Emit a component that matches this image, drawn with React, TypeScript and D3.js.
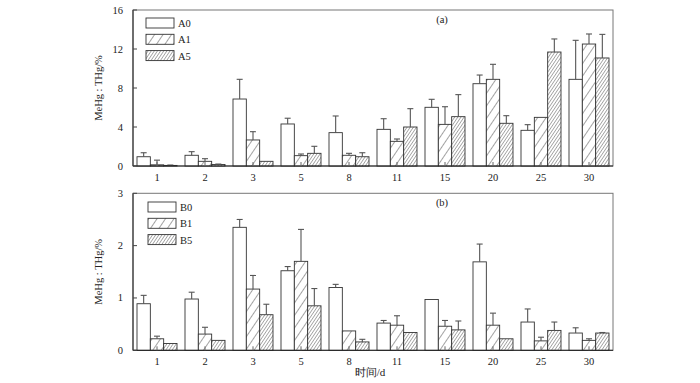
import React from "react";
import * as d3 from "d3";

const days = ["1", "2", "3", "5", "8", "11", "15", "20", "25", "30"];

const seriesA = ["A0", "A1", "A5"];
const a0 = [0.95, 1.1, 6.87, 4.31, 3.42, 3.76, 6.02, 8.44, 3.66, 8.89];
const a0Err = [1.36, 1.47, 8.89, 4.9, 5.13, 4.85, 6.84, 9.33, 4.24, 12.89];
const a1 = [0.12, 0.48, 2.67, 1.06, 1.1, 2.53, 4.27, 8.89, 4.99, 12.51];
const a1Err = [0.6, 0.75, 3.52, 1.23, 1.3, 2.77, 6.08, 10.43, 4.99, 13.54];
const a5 = [0.06, 0.15, 0.48, 1.3, 0.95, 4.0, 5.06, 4.38, 11.69, 11.08];
const a5Err = [0.1, 0.2, 0.48, 2.02, 1.36, 5.88, 7.32, 5.16, 13.03, 13.5];

const seriesB = ["B0", "B1", "B5"];
const b0 = [0.89, 0.98, 2.35, 1.52, 1.2, 0.52, 0.97, 1.69, 0.54, 0.33];
const b0Err = [1.05, 1.11, 2.5, 1.6, 1.26, 0.57, 0.97, 2.03, 0.79, 0.43];
const b1 = [0.22, 0.31, 1.17, 1.7, 0.37, 0.48, 0.46, 0.48, 0.18, 0.19];
const b1Err = [0.27, 0.44, 1.43, 2.31, 0.37, 0.66, 0.57, 0.71, 0.25, 0.22];
const b5 = [0.13, 0.19, 0.68, 0.85, 0.16, 0.34, 0.39, 0.22, 0.38, 0.33];
const b5Err = [0.13, 0.19, 0.88, 1.18, 0.21, 0.34, 0.56, 0.22, 0.54, 0.34];

const ticksA = [0, 4, 8, 12, 16];
const ticksB = [0, 1, 2, 3];

const FONT = "'Liberation Serif', 'DejaVu Serif', serif";
const fills = ["#fff", "url(#hatchSparse)", "url(#hatchDense)"];

const left = 133;
const right = 613;

type PanelProps = {
  top: number;
  bottom: number;
  max: number;
  ticks: number[];
  names: string[];
  values: number[][];
  errs: number[][];
  label: string;
  legendX: number;
  legendY: number;
};

function Panel({ top, bottom, max, ticks, names, values, errs, label, legendX, legendY }: PanelProps) {
  const x = d3.scaleBand<string>().domain(days).range([left, right]).padding(0);
  const xs = d3
    .scaleBand<string>()
    .domain(names)
    .range([0, x.bandwidth()])
    .paddingInner(0)
    .paddingOuter(0.3);
  const y = d3.scaleLinear().domain([0, max]).range([bottom, top]);
  const bw = xs.bandwidth();
  return (
    <g>
      <rect x={left} y={top} width={right - left} height={bottom - top} fill="none" stroke="#777" strokeWidth={1} />
      {names.map((s, si) =>
        days.map((d, di) => {
          const x0 = (x(d) as number) + (xs(s) as number);
          const v = values[si][di];
          const e = errs[si][di];
          return (
            <g key={s + d}>
              <rect
                x={x0}
                y={y(v)}
                width={bw}
                height={bottom - y(v)}
                fill={fills[si]}
                stroke="#333"
                strokeWidth={0.9}
              />
              {e > v + 0.001 && (
                <g stroke="#555" strokeWidth={1.1}>
                  <line x1={x0 + bw / 2} x2={x0 + bw / 2} y1={y(v)} y2={y(e)} />
                  <line x1={x0 + bw / 2 - 3} x2={x0 + bw / 2 + 3} y1={y(e)} y2={y(e)} />
                </g>
              )}
            </g>
          );
        })
      )}
      <line x1={left} x2={left} y1={top} y2={bottom} stroke="#222" strokeWidth={1} />
      <line x1={left} x2={right} y1={bottom} y2={bottom} stroke="#222" strokeWidth={1} />
      {ticks.map((t) => (
        <g key={t}>
          <line x1={left} x2={left + 4} y1={y(t)} y2={y(t)} stroke="#444" />
          <text x={123} y={y(t) + 3.5} textAnchor="end" fontSize={10.5} fontFamily={FONT} fill="#222">
            {t}
          </text>
        </g>
      ))}
      {days.map((d) => {
        const cx = (x(d) as number) + x.bandwidth() / 2;
        return (
          <g key={d}>
            <line x1={cx} x2={cx} y1={bottom} y2={bottom - 4} stroke="#666" />
            <text x={cx} y={bottom + 15} textAnchor="middle" fontSize={10.5} fontFamily={FONT} fill="#222">
              {d}
            </text>
          </g>
        );
      })}
      <text
        transform={`translate(102,${(top + bottom) / 2}) rotate(-90)`}
        textAnchor="middle"
        fontSize={10.5}
        fontFamily={FONT}
        fill="#222"
      >
        MeHg : THg/%
      </text>
      <text x={442} y={top + 13} textAnchor="middle" fontSize={10.5} fontFamily={FONT} fill="#222">
        {label}
      </text>
      {names.map((s, si) => (
        <g key={s}>
          <rect x={legendX} y={legendY + si * 16.3} width={28} height={10} fill={fills[si]} stroke="#333" strokeWidth={0.9} />
          <text x={legendX + 32} y={legendY + si * 16.3 + 9} fontSize={10.5} fontFamily={FONT} fill="#222">
            {s}
          </text>
        </g>
      ))}
    </g>
  );
}

export default function App() {
  return (
    <svg width={700} height={383} style={{ position: "absolute", left: 0, top: 0, background: "#fff" }}>
      <defs>
        <pattern id="hatchSparse" patternUnits="userSpaceOnUse" width={7} height={7} patternTransform="rotate(34)">
          <rect width={7} height={7} fill="#fff" />
          <line x1={0} y1={0} x2={0} y2={7} stroke="#333" strokeWidth={0.9} />
        </pattern>
        <pattern id="hatchDense" patternUnits="userSpaceOnUse" width={2.6} height={2.6} patternTransform="rotate(34)">
          <rect width={2.6} height={2.6} fill="#fff" />
          <line x1={0} y1={0} x2={0} y2={2.6} stroke="#333" strokeWidth={0.8} />
        </pattern>
      </defs>
      <Panel
        top={10}
        bottom={166}
        max={16}
        ticks={ticksA}
        names={seriesA}
        values={[a0, a1, a5]}
        errs={[a0Err, a1Err, a5Err]}
        label="(a)"
        legendX={146}
        legendY={18}
      />
      <Panel
        top={193.3}
        bottom={350.3}
        max={3}
        ticks={ticksB}
        names={seriesB}
        values={[b0, b1, b5]}
        errs={[b0Err, b1Err, b5Err]}
        label="(b)"
        legendX={148}
        legendY={202}
      />
      <text x={370} y={376} textAnchor="middle" fontSize={11} fontFamily={FONT} fill="#222">
        时间/d
      </text>
    </svg>
  );
}
